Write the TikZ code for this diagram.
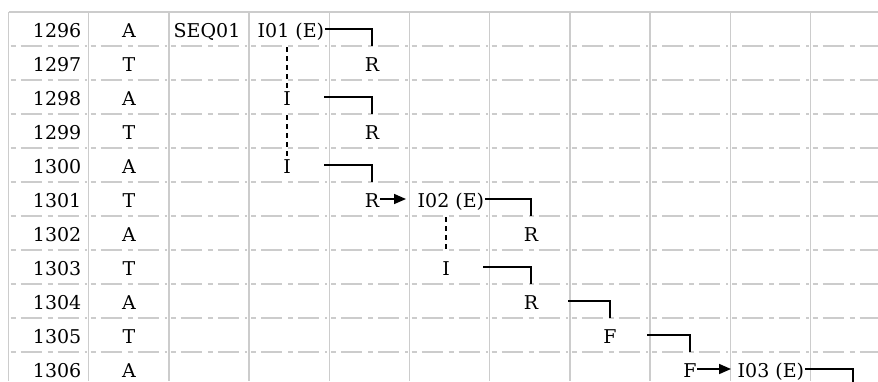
\documentclass[tikz,border=0pt]{standalone}
\usepackage{fontspec}
\setmainfont{DejaVu Serif}
\usetikzlibrary{arrows.meta}

\tikzset{
  cell/.style={inner xsep=0.5pt, inner ysep=0pt, text height=25pt, text depth=9pt, font=\fontsize{19}{21}\selectfont},
  stem/.style={cell, minimum width=74pt},
  gridline/.style={draw=gray!40, line width=1.5pt},
  elbow/.style={draw, line width=1.3pt},
  link/.style={draw, line width=1.3pt, dash pattern=on 5pt off 4pt},
  jump/.style={draw, line width=1.6pt, -{Triangle[length=12pt,width=10pt]}}
}

\begin{document}
\begin{tikzpicture}[x=1pt, y=-1pt]
        \useasboundingbox (0,0) rectangle (878,381);
        \clip (0,0) rectangle (878,381);
        % grid
        \foreach \k in {0,...,11}
        {
            \path[gridline]({8.5+80.2*\k},12)to({8.5+80.2*\k},381);
        }
        \path[gridline](8.5,12)to(878,12);
        \foreach \k in {0,...,10}
        {
            \foreach \j in {1,...,10}
            {
                \path[gridline, dash pattern=on 5pt off 5pt on 21pt off 6pt]({8.5+80.2*\k+2},{12+34*\j})to({8.5+80.2*(\k+1)-2},{12+34*\j});
            }
        }
        % positions and bases
        \foreach \b [count=\j from 0] in {A,T,A,T,A,T,A,T,A,T,A}
        {
            \pgfmathtruncatemacro\pos{1296+\j}
            \node[cell, anchor=base east](n\pos)at(82,{37+34*\j}){\pos};
            \node[cell, anchor=base](b\pos)at(129,{37+34*\j}){\b};
        }
        % states
        \node[cell, anchor=base west](seq01)at(173,37){SEQ01};
        \node[cell, anchor=base west](i01)at(257,37){I01 (E)};
        \node[cell, anchor=base](r1)at(372,71){R};
        \node[stem, anchor=base](i1)at(287,105){I};
        \node[cell, anchor=base](r2)at(372,139){R};
        \node[stem, anchor=base](i2)at(287,173){I};
        \node[cell, anchor=base](r3)at(372,207){R};
        \node[cell, anchor=base west](i02)at(417,207){I02 (E)};
        \node[cell, anchor=base](r4)at(531,241){R};
        \node[stem, anchor=base](i3)at(446,275){I};
        \node[stem, anchor=base](r5)at(531,309){R};
        \node[stem, anchor=base](f1)at(610,343){F};
        \node[cell, anchor=base](f2)at(690,377){F};
        \node[cell, anchor=base west](i03)at(737,377){I03 (E)};
        \coordinate(out)at(853,386);
        % steps
        \path[elbow](i01.east)-|(r1.north);
        \path[elbow](i1.east)-|(r2.north);
        \path[elbow](i2.east)-|(r3.north);
        \path[elbow](i02.east)-|(r4.north);
        \path[elbow](i3.east)-|(r5.north);
        \path[elbow](r5.east)-|(f1.north);
        \path[elbow](f1.east)-|(f2.north);
        \path[elbow](i03.east)-|(out);
        % repeats
        \path[link, shorten <=1pt, shorten >=-8pt](i1 |- i01.south)to(i1.north);
        \path[link, shorten <=1pt, shorten >=-8pt](i1.south)to(i2.north);
        \path[link, shorten <=1pt, shorten >=-2pt](i3 |- i02.south)to(i3.north);
        % jumps
        \path[jump, shorten >=11pt](r3.east)to(i02.west);
        \path[jump, shorten >=6pt](f2.east)to(i03.west);
    \end{tikzpicture}
\end{document}
